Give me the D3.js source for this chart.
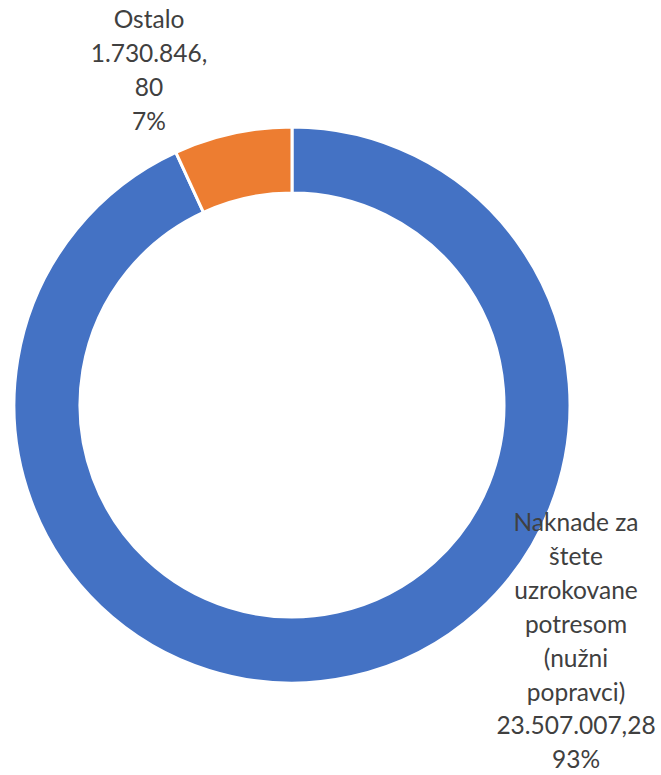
<!DOCTYPE html>
<html><head><meta charset="utf-8">
<script src="https://cdn.jsdelivr.net/npm/d3@7"></script>
<style>body{margin:0;background:#fff;}svg{display:block;}</style>
</head><body>
<script>
const categories = ["Naknade za štete uzrokovane potresom (nužni popravci)", "Ostalo"];
const values = [23507007.28, 1730846.80];
const valueLabels = ["23.507.007,28", "1.730.846,80"];
const percentLabels = ["93%", "7%"];
const colors = ["#4472C4", "#ED7D31"];
const labelLines = [
  ["Naknade za", "štete", "uzrokovane", "potresom", "(nužni", "popravci)", "23.507.007,28", "93%"],
  ["Ostalo", "1.730.846,", "80", "7%"]
];

const W = 661, H = 775;
const cx = 292, cy = 405, rOuter = 278, rInner = 212;
const svg = d3.select("body").append("svg").attr("width", W).attr("height", H);
const g = svg.append("g").attr("transform", `translate(${cx},${cy})`);
const pie = d3.pie().sort(null).value(d => d)(values);
const arc = d3.arc().innerRadius(rInner).outerRadius(rOuter);
g.selectAll("path").data(pie).join("path")
  .attr("d", arc).attr("fill", (d,i) => colors[i])
  .attr("stroke", "#fff").attr("stroke-width", 3);

const labelPos = [{x: 576, y: 531}, {x: 149, y: 28}];
const lh = 33.9;
labelLines.forEach((lines, i) => {
  const t = svg.append("text").attr("text-anchor", "middle")
    .attr("font-family", "Lato, 'Open Sans', sans-serif").attr("font-size", 24.5)
    .attr("fill", "#404040");
  lines.forEach((l, j) => {
    t.append("tspan").attr("x", labelPos[i].x).attr("y", labelPos[i].y + j * lh).text(l);
  });
});
</script>
</body></html>
